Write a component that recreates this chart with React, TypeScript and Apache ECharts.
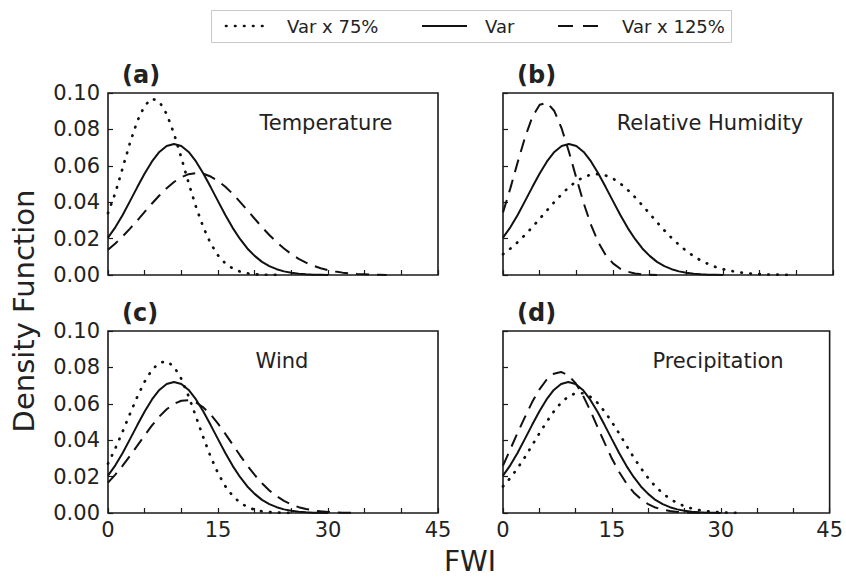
import React, { useEffect, useRef } from "react";
import * as echarts from "echarts";

// FWI sample positions (x values)
const fwi = [0, 1, 2, 3, 4, 5, 6, 7, 8, 9, 10, 11, 12, 13, 14, 15, 16, 17, 18, 19, 20,
  21, 22, 23, 24, 25, 26, 27, 28, 29, 30, 31, 32, 33, 34, 35, 36, 37, 38, 39, 40, 41, 42, 43, 44, 45];

// Baseline "Var" curve (same in every panel)
const varBase = [0.0205, 0.0262, 0.0330, 0.0406, 0.0483, 0.0558, 0.0624, 0.0676, 0.0709, 0.0720,
  0.0709, 0.0676, 0.0624, 0.0558, 0.0483, 0.0406, 0.0330, 0.0259, 0.0198, 0.0146, 0.0105, 0.0072,
  0.0049, 0.0032, 0.0020, 0.0012, 0.0007, 0.0004, 0.0002, 0.0001, 0];

// (a) Temperature
const tempLow = [0.0340, 0.0451, 0.0588, 0.0726, 0.0846, 0.0931, 0.0969, 0.0953, 0.0885, 0.0777,
  0.0644, 0.0505, 0.0374, 0.0262, 0.0173, 0.0108, 0.0064, 0.0036, 0.0019, 0.0009, 0.0004, 0.0002,
  0.0001, 0];
const tempHigh = [0.0139, 0.0173, 0.0212, 0.0255, 0.0300, 0.0347, 0.0393, 0.0437, 0.0477, 0.0511,
  0.0537, 0.0554, 0.0560, 0.0556, 0.0541, 0.0517, 0.0485, 0.0446, 0.0402, 0.0356, 0.0309, 0.0263,
  0.0220, 0.0181, 0.0146, 0.0115, 0.0089, 0.0068, 0.0051, 0.0037, 0.0027, 0.0019, 0.0013, 0.0009,
  0.0006, 0.0004, 0.0002, 0.0001, 0];

// (b) Relative Humidity
const rhLow = [0.0114, 0.0145, 0.0180, 0.0220, 0.0263, 0.0309, 0.0355, 0.0401, 0.0444, 0.0483,
  0.0515, 0.0538, 0.0552, 0.0555, 0.0547, 0.0530, 0.0503, 0.0468, 0.0427, 0.0383, 0.0337, 0.0290,
  0.0245, 0.0203, 0.0166, 0.0132, 0.0103, 0.0079, 0.0060, 0.0044, 0.0032, 0.0023, 0.0016, 0.0011,
  0.0007, 0.0005, 0.0003, 0.0002, 0.0001, 0];
const rhHigh = [0.0344, 0.0476, 0.0619, 0.0756, 0.0868, 0.0935, 0.0947, 0.0901, 0.0805, 0.0676,
  0.0533, 0.0395, 0.0275, 0.0180, 0.0110, 0.0064, 0.0034, 0.0018, 0.0008, 0.0004, 0.0002, 0];

// (c) Wind
const windLow = [0.0271, 0.0355, 0.0448, 0.0545, 0.0639, 0.0722, 0.0787, 0.0825, 0.0834, 0.0804,
  0.0737, 0.0641, 0.0529, 0.0415, 0.0309, 0.0219, 0.0147, 0.0094, 0.0057, 0.0033, 0.0018, 0.0009,
  0.0005, 0.0002, 0.0001, 0];
const windHigh = [0.0167, 0.0211, 0.0260, 0.0314, 0.0370, 0.0427, 0.0481, 0.0530, 0.0570, 0.0600,
  0.0617, 0.0619, 0.0607, 0.0580, 0.0541, 0.0491, 0.0435, 0.0376, 0.0317, 0.0260, 0.0209, 0.0163,
  0.0124, 0.0092, 0.0067, 0.0047, 0.0032, 0.0022, 0.0014, 0.0009, 0.0006, 0.0003, 0.0002, 0.0001, 0];

// (d) Precipitation
const precLow = [0.0146, 0.0192, 0.0246, 0.0306, 0.0371, 0.0437, 0.0500, 0.0558, 0.0606, 0.0640,
  0.0658, 0.0658, 0.0640, 0.0606, 0.0558, 0.0500, 0.0437, 0.0371, 0.0306, 0.0246, 0.0192, 0.0146,
  0.0108, 0.0078, 0.0055, 0.0037, 0.0025, 0.0016, 0.0010, 0.0006, 0.0004, 0.0002, 0.0001, 0];
const precHigh = [0.0260, 0.0350, 0.0440, 0.0525, 0.0608, 0.0678, 0.0732, 0.0765, 0.0775, 0.0757,
  0.0713, 0.0647, 0.0565, 0.0475, 0.0385, 0.0299, 0.0225, 0.0163, 0.0113, 0.0076, 0.0049, 0.0030,
  0.0018, 0.0011, 0.0006, 0.0003, 0.0002, 0.0001, 0];

const panelLetters = ["(a)", "(b)", "(c)", "(d)"];
const panelNames = ["Temperature", "Relative Humidity", "Wind", "Precipitation"];
const seriesNames = ["Var x 75%", "Var", "Var x 125%"];
const xTickLabels = [0, 15, 30, 45];

const FONT = "DejaVu Sans";
const TEXT = "#222";
const LINE = "#111";

const DOT: any = { type: [0.5, 8.5], width: 2.7, cap: "round", color: LINE };
const SOLID: any = { type: "solid", width: 2, color: LINE };
const DASH: any = { type: [13, 8], width: 2, color: LINE };

function toPairs(arr: number[]) {
  return arr.map((y, i) => [fwi[i], y]);
}

export default function App() {
  const ref = useRef<HTMLDivElement>(null);
  useEffect(() => {
    if (!ref.current) return;
    const chart = echarts.init(ref.current, null, { renderer: "svg" });

    const grids = [
      { left: 108, top: 93 },
      { left: 503, top: 93 },
      { left: 108, top: 331 },
      { left: 503, top: 331 },
    ].map((g) => ({
      ...g,
      width: 330,
      height: 182,
      show: true,
      borderColor: "#1a1a1a",
      borderWidth: 1.6,
      backgroundColor: "transparent",
      containLabel: false,
    }));

    const xAxes = grids.map((_, i) => ({
      type: "value",
      gridIndex: i,
      min: 0,
      max: 45,
      interval: 5,
      axisLine: { show: false },
      axisTick: { show: true, inside: true, length: 5, lineStyle: { color: "#1a1a1a", width: 1.2 } },
      splitLine: { show: false },
      axisLabel: {
        show: i >= 2,
        margin: 6,
        fontFamily: FONT,
        fontSize: 21,
        color: TEXT,
        formatter: (v: number) => (xTickLabels.indexOf(v) >= 0 ? String(v) : ""),
      },
    }));

    const yAxes = grids.map((_, i) => ({
      type: "value",
      gridIndex: i,
      min: 0,
      max: 0.1,
      interval: 0.02,
      axisLine: { show: false },
      axisTick: { show: true, inside: true, length: 5, lineStyle: { color: "#1a1a1a", width: 1.2 } },
      splitLine: { show: false },
      axisLabel: {
        show: i % 2 === 0,
        margin: 8,
        fontFamily: FONT,
        fontSize: 21,
        color: TEXT,
        formatter: (v: number) => v.toFixed(2),
      },
    }));

    const panelData = [
      [tempLow, varBase, tempHigh],
      [rhLow, varBase, rhHigh],
      [windLow, varBase, windHigh],
      [precLow, varBase, precHigh],
    ];
    const styles = [DOT, SOLID, DASH];

    const series: any[] = [];
    panelData.forEach((curves, p) => {
      curves.forEach((arr, k) => {
        series.push({
          type: "line",
          name: seriesNames[k],
          xAxisIndex: p,
          yAxisIndex: p,
          data: toPairs(arr),
          showSymbol: false,
          symbol: "none",
          smooth: false,
          lineStyle: styles[k],
          z: 3,
        });
      });
    });

    const letterPos = [
      [122, 75],
      [517, 75],
      [122, 313],
      [517, 313],
    ];
    const namePos = [
      [326, 123],
      [710, 123],
      [282, 361],
      [718, 361],
    ];

    const graphic: any[] = [];
    panelLetters.forEach((t, i) => {
      graphic.push({
        type: "text",
        x: letterPos[i][0],
        y: letterPos[i][1],
        style: {
          text: t,
          fontFamily: FONT,
          fontSize: 24,
          fontWeight: "bold",
          fill: TEXT,
          align: "left",
          verticalAlign: "middle",
        },
      });
      graphic.push({
        type: "text",
        x: namePos[i][0],
        y: namePos[i][1],
        style: {
          text: panelNames[i],
          fontFamily: FONT,
          fontSize: 21,
          fill: TEXT,
          align: "center",
          verticalAlign: "middle",
        },
      });
    });

    graphic.push({
      type: "text",
      x: 24,
      y: 311,
      rotation: Math.PI / 2,
      style: {
        text: "Density Function",
        fontFamily: FONT,
        fontSize: 29,
        fill: TEXT,
        align: "center",
        verticalAlign: "middle",
      },
    });
    graphic.push({
      type: "text",
      x: 470,
      y: 561,
      style: {
        text: "FWI",
        fontFamily: FONT,
        fontSize: 28,
        fill: TEXT,
        align: "center",
        verticalAlign: "middle",
      },
    });

    // legend
    graphic.push({
      type: "rect",
      shape: { x: 211.5, y: 10.5, width: 520, height: 32 },
      style: { fill: "#fff", stroke: "#c8c8c8", lineWidth: 1 },
    });
    const legendItems = [
      { x1: 226, x2: 263, tx: 287, style: DOT },
      { x1: 422, x2: 467, tx: 485, style: SOLID },
      { x1: 558, x2: 598, tx: 622, style: { ...DASH, type: [15, 10] } },
    ];
    legendItems.forEach((it, k) => {
      const st = it.style;
      graphic.push({
        type: "line",
        shape: { x1: it.x1, y1: 26, x2: it.x2, y2: 26 },
        style: {
          stroke: st.color,
          lineWidth: st.width,
          lineDash: Array.isArray(st.type) ? st.type : null,
          lineCap: st.cap || "butt",
        },
      });
      graphic.push({
        type: "text",
        x: it.tx,
        y: 26,
        style: {
          text: seriesNames[k],
          fontFamily: FONT,
          fontSize: 18,
          fill: TEXT,
          align: "left",
          verticalAlign: "middle",
        },
      });
    });

    chart.setOption({
      animation: false,
      backgroundColor: "#fff",
      textStyle: { fontFamily: FONT },
      grid: grids,
      xAxis: xAxes,
      yAxis: yAxes,
      series,
      graphic,
    });

    return () => chart.dispose();
  }, []);

  return (
    <div
      ref={ref}
      style={{ position: "fixed", left: 0, top: 0, width: 846, height: 579, background: "#fff" }}
    />
  );
}
